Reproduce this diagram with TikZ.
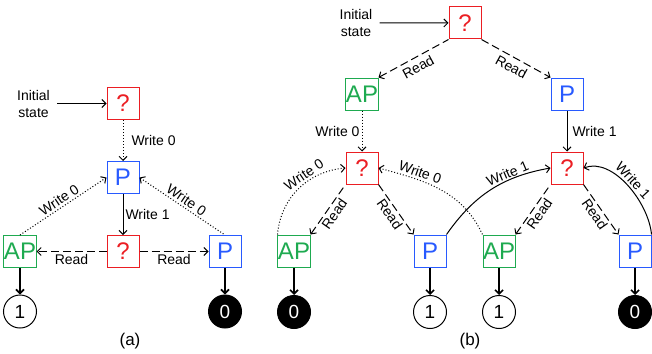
\documentclass[tikz,border=0pt]{standalone}
\usepackage{fontspec}
\setmainfont{Liberation Sans}
\usetikzlibrary{arrows.meta,positioning}
\definecolor{qcolor}{RGB}{235,30,35}
\definecolor{pcolor}{RGB}{40,90,255}
\definecolor{apcolor}{RGB}{30,170,80}
\tikzset{
	box/.style={
		rectangle,
		line width=1pt,
		minimum size=32pt,
		inner sep=0pt,
		font=\fontsize{24}{26}\selectfont
	},
	qbox/.style={
		box,
		draw=qcolor,
		text=qcolor
	},
	pbox/.style={
		box,
		draw=pcolor,
		text=pcolor
	},
	apbox/.style={
		box,
		draw=apcolor,
		text=apcolor
	},
	leaf/.style={
		circle,
		draw,
		line width=1pt,
		minimum size=33pt,
		inner sep=0pt,
		font=\fontsize{19}{21}\selectfont
	},
	leafb/.style={
		leaf,
		fill=black,
		text=white
	},
	lbl/.style={
		font=\fontsize{14}{17}\selectfont,
		inner sep=2pt
	},
	arrow/.style={
		line width=1pt,
		>={Straight Barb[length=4pt,width=8pt]},
		->
	},
	writearr/.style={
		arrow,
		dash pattern=on 1pt off 2pt
	},
	readarr/.style={
		arrow,
		dash pattern=on 8pt off 4pt
	},
	outarr/.style={
		arrow,
		line width=1.6pt
	},
}

\begin{document}
\begin{tikzpicture}[x=1pt,y=-1pt,node distance=74pt,on grid]
	\useasboundingbox (0,0) rectangle (652,353);
	% (a)
	\node[qbox] (qa) at (123,103.5) {?};
	\node[pbox] (pa) [below=of qa] {P};
	\node[qbox] (qa2) [below=of pa] {?};
	\node[apbox] (apa) [left=103pt of qa2] {AP};
	\node[pbox] (pa2) [right=102pt of qa2] {P};
	\node[leaf] (onea) [below=60pt of apa] {1};
	\node[leafb] (zeroa) [below=60pt of pa2] {0};
	\node[lbl,align=center,inner xsep=7pt] (inita) at (33.5,103.5) {Initial\\state};
	\node[lbl,font=\fontsize{17}{20}\selectfont] (capa) at (130,341) {(a)};
	\draw[arrow] (inita) -- (qa);
	\draw[writearr] (qa) -- node[lbl,right=6pt] {Write 0} (pa);
	\draw[arrow] (pa) -- node[lbl,right] {Write 1} (qa2);
	\draw[writearr] (apa.north) -- node[lbl,sloped,above] {Write 0} (pa.west);
	\draw[writearr,<-] (pa.east) -- node[lbl,sloped,above] {Write 0} (pa2.north);
	\draw[readarr] (qa2) -- node[lbl,below] {Read} (apa);
	\draw[readarr] (qa2) -- node[lbl,below] {Read} (pa2);
	\draw[outarr] (apa) -- (onea);
	\draw[outarr] (pa2) -- (zeroa);
	% (b)
	\node[qbox] (qb) at (465,23) {?};
	\node[apbox] (apb) [below left=71pt and 103pt of qb] {AP};
	\node[pbox] (pb) [below right=71pt and 102pt of qb] {P};
	\node[qbox] (qbl) [below=of apb] {?};
	\node[qbox] (qbr) [below=of pb] {?};
	\node[apbox] (apb1) [below left=83pt and 68pt of qbl] {AP};
	\node[pbox] (pb1) [below right=83pt and 68pt of qbl] {P};
	\node[apbox] (apb2) [below left=83pt and 68pt of qbr] {AP};
	\node[pbox] (pb2) [below right=83pt and 68pt of qbr] {P};
	\node[leafb] (zerob1) [below=61pt of apb1] {0};
	\node[leaf] (oneb1) [below=61pt of pb1] {1};
	\node[leaf] (oneb2) [below=61pt of apb2] {1};
	\node[leafb] (zerob2) [below=61pt of pb2] {0};
	\node[lbl,align=center,inner xsep=7pt] (initb) at (356,22.7) {Initial\\state};
	\node[lbl,font=\fontsize{17}{20}\selectfont] (capb) at (470,341) {(b)};
	\draw[arrow] (initb) -- (qb);
	\draw[readarr,<-] (apb.north east) -- node[lbl,sloped,below=2pt] {Read} (qb.south west);
	\draw[readarr] (qb.south east) -- node[lbl,sloped,below=2pt] {Read} (pb.north west);
	\draw[writearr] (apb) -- node[lbl,left] {Write 0} (qbl);
	\draw[arrow] (pb) -- node[lbl,right=3pt] {Write 1} (qbr);
	\draw[readarr,<-] (apb1.north east) -- node[lbl,sloped,below] {Read} (qbl.south west);
	\draw[readarr] (qbl.south east) -- node[lbl,sloped,below] {Read} (pb1.north west);
	\draw[readarr,<-] (apb2.north east) -- node[lbl,sloped,below] {Read} (qbr.south west);
	\draw[readarr] (qbr.south east) -- node[lbl,sloped,below] {Read} (pb2.north west);
	\draw[writearr] (apb1.north west) to[out=85,in=185] node[lbl,sloped,above,pos=0.62] {Write 0} (qbl.west);
	\draw[writearr,<-] (qbl.east) to[out=-15,in=115] node[lbl,sloped,above,pos=0.3] {Write 0} (apb2.north west);
	\draw[arrow] (pb1.north east) to[out=55,in=190] node[lbl,sloped,above,inner sep=1pt,pos=0.68] {Write 1} (qbr.west);
	\draw[arrow,<-] (qbr.east) to[out=20,in=95,looseness=0.85] node[lbl,sloped,above] {Write 1} (pb2.north east);
	\draw[outarr] (apb1) -- (zerob1);
	\draw[outarr] (pb1) -- (oneb1);
	\draw[outarr] (apb2) -- (oneb2);
	\draw[outarr] (pb2) -- (zerob2);
\end{tikzpicture}
\end{document}
